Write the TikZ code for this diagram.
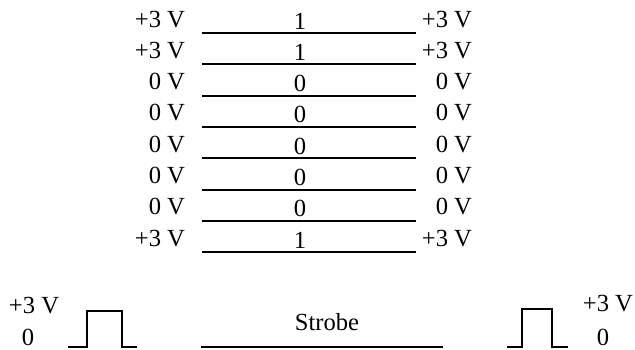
\documentclass[tikz,border=0pt]{standalone}
\usepackage{fontspec}
\setmainfont{Liberation Serif}
\begin{document}
\begin{tikzpicture}[x=0.5pt,y=-0.5pt,line width=1pt,
  every node/.style={font=\fontsize{12.3}{14}\selectfont,inner sep=0pt},
  volt/.style={anchor=base east},
  bitlabel/.style={anchor=base}]
\useasboundingbox (0,0) rectangle (635,349);
\foreach \b [count=\i from 0] in {1,1,0,0,0,0,0,1}{
  \pgfmathsetmacro\ly{33+31.3*\i}
  \coordinate (ls\i) at (202,\ly);
  \coordinate (le\i) at (416,\ly);
  \draw (ls\i) -- (le\i);
  \node[volt] (vl\i) at (186,\ly-6) {\ifnum\b=1 +3\else 0\fi\ V};
  \node[volt] (vr\i) at (473,\ly-6) {\ifnum\b=1 +3\else 0\fi\ V};
  \node[bitlabel] (bit\i) at (300,\ly-4) {\b};
}
\node[anchor=base west] (hil) at (8,313) {+3 V};
\node[bitlabel] (lol) at (28,345) {0};
\draw (68,347) -- (87,347) -- (87,311) -- (122,311) -- (122,347) -- (137,347);
\coordinate (sl) at (201,347);
\coordinate (sr) at (443,347);
\draw (sl) -- (sr);
\node[bitlabel] (strobe) at (327,330) {Strobe};
\draw (507,347) -- (522,347) -- (522,309) -- (552,309) -- (552,347) -- (568,347);
\node[anchor=base east] (hir) at (634,311) {+3 V};
\node[bitlabel] (lor) at (603,345) {0};
\end{tikzpicture}
\end{document}
